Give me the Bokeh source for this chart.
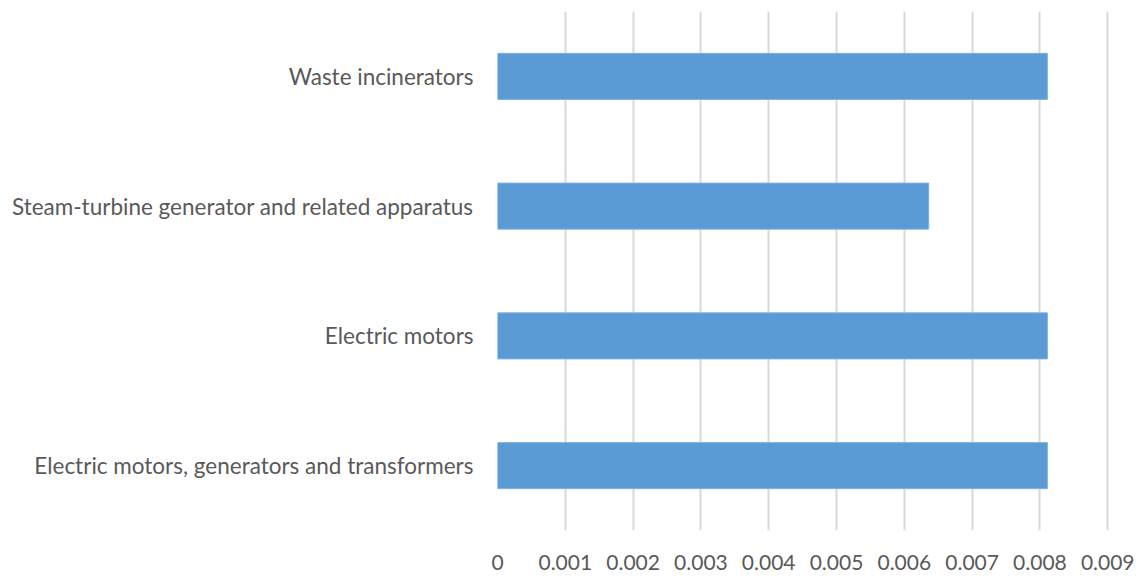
from bokeh.plotting import figure
from bokeh.models import Range1d, FactorRange, FixedTicker, CustomJSTickFormatter, ColumnDataSource
from bokeh.embed import file_html
from bokeh.resources import INLINE

categories = [
    "Electric motors, generators and transformers",
    "Electric motors",
    "Steam-turbine generator and related apparatus",
    "Waste incinerators",
]
values = [0.00811, 0.00811, 0.00636, 0.00811]
x_ticks = [0, 0.001, 0.002, 0.003, 0.004, 0.005, 0.006, 0.007, 0.008, 0.009]

src = ColumnDataSource(dict(cat=categories, val=values))

p = figure(width=1148, height=578, output_backend="svg", toolbar_location=None,
           y_range=FactorRange(*categories), x_range=Range1d(0, 0.0091),
           min_border_left=497, min_border_right=34, min_border_top=11, min_border_bottom=48)
p.hbar(y="cat", right="val", left=0, height=0.355, source=src,
       fill_color="#5b9bd5", line_color="#7fb2e0", line_width=1)

p.outline_line_color = None
p.ygrid.grid_line_color = None
p.xgrid.grid_line_color = "#d9d9d9"
p.xgrid.grid_line_width = 2
p.xgrid.ticker = FixedTicker(ticks=x_ticks)

p.xaxis.ticker = FixedTicker(ticks=x_ticks)
p.xaxis.formatter = CustomJSTickFormatter(code="return tick == 0 ? '0' : tick.toFixed(3);")
p.xaxis.axis_line_color = None
p.xaxis.major_tick_line_color = None
p.xaxis.minor_tick_line_color = None
p.xaxis.major_label_standoff = 18
p.xaxis.major_label_text_font = "Lato"
p.xaxis.major_label_text_font_size = "21px"
p.xaxis.major_label_text_color = "#595959"

p.yaxis.axis_line_color = None
p.yaxis.major_tick_line_color = None
p.yaxis.minor_tick_line_color = None
p.yaxis.major_label_standoff = 18
p.yaxis.major_label_text_font = "Lato"
p.yaxis.major_label_text_font_size = "22.5px"
p.yaxis.major_label_text_color = "#595959"

open("out.html", "w").write(file_html(p, INLINE))
